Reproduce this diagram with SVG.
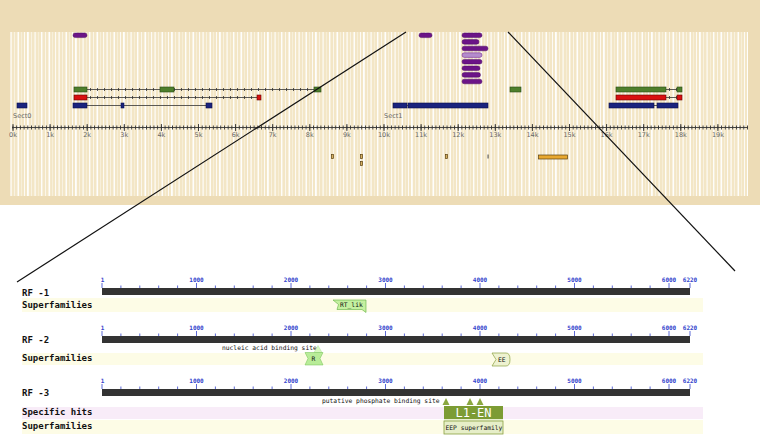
<svg xmlns="http://www.w3.org/2000/svg" xmlns:xlink="http://www.w3.org/1999/xlink" width="760" height="436" viewBox="0 0 760 436">
<style>
.lbl{font-family:"DejaVu Sans Mono","Liberation Mono",monospace;font-weight:bold;font-size:9px;fill:#111}
.tk{font-family:"DejaVu Sans Mono","Liberation Mono",monospace;font-weight:bold;font-size:6px;fill:#3344cc;text-anchor:middle}
.sm{font-family:"DejaVu Sans Mono","Liberation Mono",monospace;font-size:6.3px;fill:#111}
.kl{font-family:"DejaVu Sans","Liberation Sans",sans-serif;font-size:6.5px;fill:#666;text-anchor:middle}
.sect{font-family:"DejaVu Sans","Liberation Sans",sans-serif;font-size:6.5px;fill:#666}
.pu{fill:#6b1487;stroke:#4a0a60;stroke-width:0.5}
.gr{fill:#4e7f2c;stroke:#2a4a14;stroke-width:0.6}
.rd{fill:#d81010;stroke:#600;stroke-width:0.6}
.bl{fill:#1a237e;stroke:#0a104a;stroke-width:0.6}
.intr{stroke:#333;stroke-width:0.8;fill:none}
.itk{stroke:#333;stroke-width:3;stroke-dasharray:0.8 6.2;fill:none}
.bx{fill:#d8b060;stroke:#5a4010;stroke-width:0.7}
.sfrow{fill:#fdfce6}
.tick{stroke:#3344cc;stroke-width:0.8}
</style>
<defs>
<pattern id="stripes" patternUnits="userSpaceOnUse" x="10" y="0" width="48" height="10">
<rect x="0.5" width="1.2" height="10" fill="#fff" opacity="0.9"/>
<rect x="4" width="0.8" height="10" fill="#fff" opacity="0.6"/>
<rect x="7.5" width="1.5" height="10" fill="#fff" opacity="0.9"/>
<rect x="11" width="0.7" height="10" fill="#fff" opacity="0.5"/>
<rect x="14" width="1" height="10" fill="#fff" opacity="0.8"/>
<rect x="17" width="1.8" height="10" fill="#fff" opacity="0.95"/>
<rect x="21" width="0.8" height="10" fill="#fff" opacity="0.6"/>
<rect x="24.5" width="1.2" height="10" fill="#fff" opacity="0.85"/>
<rect x="28" width="0.6" height="10" fill="#fff" opacity="0.5"/>
<rect x="31" width="1.4" height="10" fill="#fff" opacity="0.9"/>
<rect x="35" width="0.9" height="10" fill="#fff" opacity="0.7"/>
<rect x="38.5" width="1.6" height="10" fill="#fff" opacity="0.95"/>
<rect x="42" width="0.7" height="10" fill="#fff" opacity="0.5"/>
<rect x="45" width="1.1" height="10" fill="#fff" opacity="0.8"/>
</pattern>
<pattern id="minor" patternUnits="userSpaceOnUse" x="12.5" y="0" width="3.71" height="10">
<rect x="0" y="0" width="0.9" height="10" fill="#333"/>
</pattern>
<g id="ruler">
<rect x="102" y="0" width="588" height="7" fill="#333"/>
<path class="tick" d="M102,-5V0M196.5,-5V0M291,-5V0M385.5,-5V0M480,-5V0M574.5,-5V0M669,-5V0M690,-5V0M120.9,-2.5V0M139.8,-2.5V0M158.7,-2.5V0M177.6,-2.5V0M215.4,-2.5V0M234.3,-2.5V0M253.2,-2.5V0M272.1,-2.5V0M309.9,-2.5V0M328.8,-2.5V0M347.7,-2.5V0M366.6,-2.5V0M404.4,-2.5V0M423.3,-2.5V0M442.2,-2.5V0M461.1,-2.5V0M498.9,-2.5V0M517.8,-2.5V0M536.7,-2.5V0M555.6,-2.5V0M593.4,-2.5V0M612.3,-2.5V0M631.2,-2.5V0M650.1,-2.5V0"/>
<text class="tk" x="102.5" y="-6">1</text>
<text class="tk" x="196.5" y="-6">1000</text>
<text class="tk" x="291" y="-6">2000</text>
<text class="tk" x="385.5" y="-6">3000</text>
<text class="tk" x="480" y="-6">4000</text>
<text class="tk" x="574.5" y="-6">5000</text>
<text class="tk" x="669" y="-6">6000</text>
<text class="tk" x="690" y="-6">6220</text>
</g>
</defs>
<rect width="760" height="436" fill="#fff"/>
<g id="genome-panel">
<rect x="0" y="0" width="760" height="205" fill="#eddcb6"/>
<rect x="10" y="32" width="738" height="164" fill="#f3e6c6"/>
<rect x="10" y="32" width="738" height="164" fill="url(#stripes)"/>
</g>
<g id="genome-ruler">
<line x1="12" y1="127.5" x2="748" y2="127.5" stroke="#333" stroke-width="0.9"/>
<rect x="12" y="125.5" width="736" height="4" fill="url(#minor)"/>
<path stroke="#333" stroke-width="0.9" d="M13,124V131M50.1,124V131M87.2,124V131M124.3,124V131M161.4,124V131M198.5,124V131M235.6,124V131M272.7,124V131M309.8,124V131M346.9,124V131M384,124V131M421.1,124V131M458.2,124V131M495.3,124V131M532.4,124V131M569.5,124V131M606.6,124V131M643.7,124V131M680.8,124V131M717.9,124V131"/>
<text class="kl" x="13" y="137">0k</text>
<text class="kl" x="50.1" y="137">1k</text>
<text class="kl" x="87.2" y="137">2k</text>
<text class="kl" x="124.3" y="137">3k</text>
<text class="kl" x="161.4" y="137">4k</text>
<text class="kl" x="198.5" y="137">5k</text>
<text class="kl" x="235.6" y="137">6k</text>
<text class="kl" x="272.7" y="137">7k</text>
<text class="kl" x="309.8" y="137">8k</text>
<text class="kl" x="346.9" y="137">9k</text>
<text class="kl" x="384" y="137">10k</text>
<text class="kl" x="421.1" y="137">11k</text>
<text class="kl" x="458.2" y="137">12k</text>
<text class="kl" x="495.3" y="137">13k</text>
<text class="kl" x="532.4" y="137">14k</text>
<text class="kl" x="569.5" y="137">15k</text>
<text class="kl" x="606.6" y="137">16k</text>
<text class="kl" x="643.7" y="137">17k</text>
<text class="kl" x="680.8" y="137">18k</text>
<text class="kl" x="717.9" y="137">19k</text>
</g>
<g id="repeats">
<rect class="pu" x="73" y="33" width="14" height="4.6" rx="2.3"/>
<rect class="pu" x="419" y="33" width="13" height="4.6" rx="2.3"/>
<rect class="pu" x="462" y="33" width="20" height="4.6" rx="2.3"/>
<rect class="pu" x="462" y="39.6" width="17" height="4.6" rx="2.3"/>
<rect class="pu" x="462" y="46.2" width="26" height="4.6" rx="2.3"/>
<rect x="462" y="52.8" width="20" height="4.6" rx="2.3" fill="#b48ccc" stroke="#6b1487" stroke-width="0.5"/>
<rect class="pu" x="462" y="59.4" width="20" height="4.6" rx="2.3"/>
<rect class="pu" x="462" y="66" width="18" height="4.6" rx="2.3"/>
<rect class="pu" x="462" y="72.6" width="18.5" height="4.6" rx="2.3"/>
<rect class="pu" x="462" y="79.2" width="20" height="4.6" rx="2.3"/>
</g>
<g id="gene-green">
<line class="intr" x1="87" y1="89.5" x2="314" y2="89.5"/>
<line class="itk" x1="90" y1="89.5" x2="314" y2="89.5"/>
<rect class="gr" x="74" y="87" width="13" height="5"/>
<rect class="gr" x="160" y="87" width="14" height="5"/>
<rect class="gr" x="314" y="87" width="7" height="5"/>
<rect class="gr" x="510" y="87" width="11" height="5"/>
<line class="intr" x1="666" y1="89.5" x2="677" y2="89.5"/>
<line class="itk" x1="669" y1="89.5" x2="677" y2="89.5"/>
<rect class="gr" x="616" y="87" width="50" height="5"/>
<rect class="gr" x="677" y="87" width="5" height="5"/>
</g>
<g id="gene-red">
<line class="intr" x1="87" y1="97.5" x2="257" y2="97.5"/>
<line class="itk" x1="90" y1="97.5" x2="257" y2="97.5"/>
<rect class="rd" x="74" y="95" width="13" height="5"/>
<rect class="rd" x="257" y="95" width="4" height="5"/>
<line class="intr" x1="666" y1="97.5" x2="677" y2="97.5"/>
<line class="itk" x1="669" y1="97.5" x2="677" y2="97.5"/>
<rect class="rd" x="616" y="95" width="50" height="5"/>
<rect class="rd" x="677" y="95" width="5" height="5"/>
</g>
<g id="gene-blue">
<line class="intr" x1="87" y1="105.5" x2="206" y2="105.5"/>
<rect class="bl" x="17" y="103" width="10" height="5"/>
<rect class="bl" x="73" y="103" width="14" height="5"/>
<rect class="bl" x="121" y="103" width="3" height="5"/>
<rect class="bl" x="206" y="103" width="6" height="5"/>
<rect class="bl" x="393" y="103" width="14" height="5"/>
<line class="intr" x1="407" y1="105.5" x2="408" y2="105.5"/>
<rect class="bl" x="408" y="103" width="80" height="5"/>
<line class="intr" x1="654" y1="105.5" x2="657" y2="105.5"/>
<rect class="bl" x="609" y="103" width="45" height="5"/>
<rect class="bl" x="657" y="103" width="21" height="5"/>
<text class="sect" x="13" y="118">Sect0</text>
<text class="sect" x="384" y="118">Sect1</text>
</g>
<g id="lower-features">
<rect class="bx" x="331.5" y="154.5" width="2" height="4"/>
<rect class="bx" x="360.5" y="154.5" width="2" height="4"/>
<rect class="bx" x="360.5" y="161.5" width="2" height="4"/>
<rect class="bx" x="445.5" y="154.5" width="2" height="4"/>
<rect x="487.6" y="154.5" width="0.9" height="4" fill="#333"/>
<rect x="538.5" y="155" width="29" height="4" fill="#e8a830" stroke="#5a4010" stroke-width="0.7"/>
</g>
<g id="connectors">
<line x1="406" y1="32" x2="17" y2="282" stroke="#111" stroke-width="1.2"/>
<line x1="508" y1="32" x2="735" y2="271" stroke="#111" stroke-width="1.2"/>
</g>
<g id="rf-1">
<text class="lbl" x="22" y="296">RF -1</text>
<use xlink:href="#ruler" href="#ruler" transform="translate(0,288)"/>
<rect class="sfrow" x="22" y="298" width="681" height="14"/>
<text class="lbl" x="22" y="308">Superfamilies</text>
<polygon points="333,300 366,300 366,312.5 362,309.5 337,309.5 338.5,304.5" fill="#c4f0a0" stroke="#60b040" stroke-width="0.6"/>
<text class="sm" x="340" y="307">RT_lik</text>
</g>
<g id="rf-2">
<text class="lbl" x="22" y="343">RF -2</text>
<use xlink:href="#ruler" href="#ruler" transform="translate(0,336)"/>
<text class="sm" x="222" y="350">nucleic acid binding site</text>
<rect class="sfrow" x="22" y="353" width="681" height="12"/>
<text class="lbl" x="22" y="361">Superfamilies</text>
<polygon points="314,352.5 318,345.5 322,352.5" fill="#d8f8c0" stroke="#a0d890" stroke-width="0.4"/>
<polygon points="305,352.5 323,352.5 320,358.5 323,365 305,365 308,358.5" fill="#b8ec98" stroke="#70c050" stroke-width="0.5"/>
<text class="sm" x="311.6" y="361">R</text>
<path d="M492,353 H506 Q510,353 510,359.5 Q510,366 506,366 H492 L496,359.5 Z" fill="#eef2d0" stroke="#8aa040" stroke-width="0.7"/>
<text class="sm" x="498" y="361.5">EE</text>
</g>
<g id="rf-3">
<text class="lbl" x="22" y="396">RF -3</text>
<use xlink:href="#ruler" href="#ruler" transform="translate(0,389)"/>
<text class="sm" x="322" y="402.5">putative phosphate binding site</text>
<polygon points="442.5,405 446,398 449.5,405" fill="#8aa840"/>
<polygon points="466.5,405 470,398 473.5,405" fill="#8aa840"/>
<polygon points="476.5,405 480,398 483.5,405" fill="#8aa840"/>
<rect x="22" y="407" width="681" height="12" fill="#f8ecf8"/>
<text class="lbl" x="22" y="415">Specific hits</text>
<rect class="sfrow" x="22" y="420" width="681" height="14"/>
<text class="lbl" x="22" y="429">Superfamilies</text>
<rect x="444" y="406" width="59" height="13" fill="#7c9c34"/>
<text x="473.5" y="417" text-anchor="middle" font-family="DejaVu Sans Mono, Liberation Mono, monospace" font-size="12" fill="#fff">L1-EN</text>
<rect x="444" y="419" width="59" height="2" fill="#e8f0d0"/>
<rect x="444" y="421" width="59" height="13" fill="#e6eec8" stroke="#8aa040" stroke-width="0.8"/>
<text class="sm" x="445.5" y="430">EEP superfamily</text>
</g>
</svg>
